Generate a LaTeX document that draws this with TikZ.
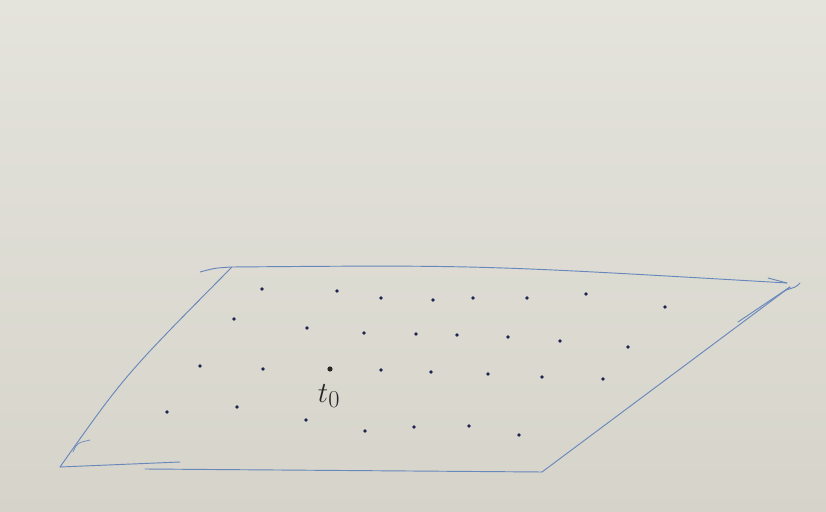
\documentclass[tikz,border=0pt]{standalone}
\usepackage{tikz}
\usetikzlibrary{arrows.meta,positioning}
\definecolor{boardtop}{RGB}{228,227,220}
\definecolor{boardbot}{RGB}{214,212,202}
\definecolor{pen}{RGB}{104,136,188}
\definecolor{ink}{RGB}{30,36,82}
\tikzset{
  edge/.style={draw=pen, line width=0.8pt, line cap=round},
  pt/.style={fill=ink},
  lbl/.style={font=\Huge, text=black!85, inner sep=0pt}
}

\begin{document}
\begin{tikzpicture}[x=0.03cm,y=-0.03cm]
\shade[top color=boardtop, bottom color=boardbot] (0,0) rectangle (826,512);
\useasboundingbox (0,0) rectangle (826,512);
% corners of the plane
\coordinate (bl) at (60,467);
\coordinate (tl) at (232,267);
\coordinate (tl0) at (200,272);
\coordinate (tr) at (787,283);
\coordinate (br) at (542,472);
\coordinate (b1) at (180,462);
\coordinate (b2) at (145,469);
\coordinate (r1) at (790,287);
\coordinate (r2) at (738,322);
\draw[edge] (bl) .. controls (125,375) .. (tl);
\draw[edge] (tl0) .. controls (215,268) .. (tl) .. controls (480,265) .. (tr);
\draw[edge] (bl) -- (b1);
\draw[edge] (b2) -- (br);
\draw[edge] (br) -- (r1);
\draw[edge] (r2) -- (r1);
% tip at the far corner
\coordinate (h1) at (768,278);
\coordinate (h2) at (786,290);
\coordinate (h3) at (800,283);
\draw[edge] (h1) -- (tr);
\draw[edge] (h2) .. controls (796,287) .. (h3);
\coordinate (k1) at (73,452);
\coordinate (k2) at (90,440);
\draw[edge, line width=0.6pt] (k1) .. controls (77,443) .. (k2);
% lattice points
\foreach \p in {(262,289),(337,291),(381,298),(433,300),(473,298),(527,298),(586,294),(665,307),
  (234,319),(307,328),(364,333),(416,334),(457,335),(508,337),(560,341),(628,347),
  (200,366),(263,369),(381,370),(431,372),(488,374),(542,377),(603,379),
  (167,412),(237,407),(306,420),(365,431),(414,427),(469,426),(519,435)}
  \fill[pt] \p circle (1.5pt);
\fill[black!85] (330,369) circle (2.2pt);
\node[lbl] (t0) at (329,396) {$t_0$};
\end{tikzpicture}
\end{document}
